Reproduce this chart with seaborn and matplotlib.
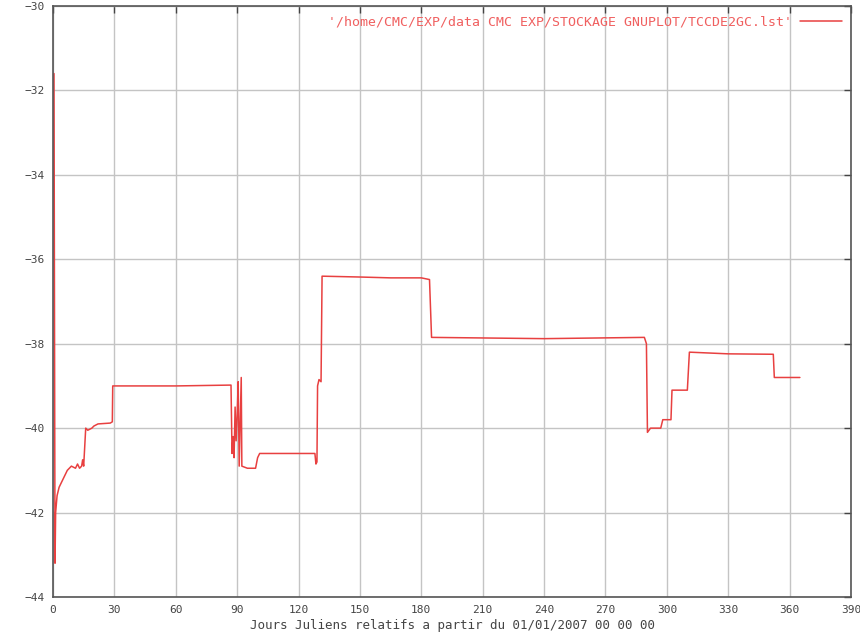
import numpy as np
import pandas as pd
import matplotlib
matplotlib.use("Agg")
import matplotlib.pyplot as plt
import seaborn as sns

# Donnees (jours, valeur)
jours = [0.5, 1.0, 1.3, 2, 3, 5, 7, 9, 11, 12, 13, 14, 14.5, 15, 16, 17, 19, 20, 22,
         28, 29, 29.2, 60, 87, 87.5, 88, 88.5, 89, 89.5, 90, 90.5, 91, 92, 92.3, 95,
         99, 100, 101, 128, 128.5, 129, 129.3, 130, 131, 131.5, 150, 165, 180, 184,
         185, 240, 289, 290, 290.5, 292, 297, 298, 302, 302.5, 310, 311, 330, 352,
         352.5, 365]
valeurs = [-31.6, -43.2, -42.0, -41.6, -41.4, -41.2, -41.0, -40.9, -40.95, -40.85,
           -40.95, -40.9, -40.75, -40.9, -40.0, -40.05, -40.0, -39.95, -39.9, -39.88,
           -39.85, -39.0, -39.0, -38.98, -40.6, -40.2, -40.7, -39.5, -40.3, -39.7,
           -38.9, -40.9, -38.8, -40.9, -40.95, -40.95, -40.7, -40.6, -40.6, -40.85,
           -40.8, -39.0, -38.85, -38.9, -36.4, -36.42, -36.44, -36.44, -36.48, -37.85,
           -37.88, -37.85, -38.0, -40.1, -40.0, -40.0, -39.8, -39.8, -39.1, -39.1,
           -38.2, -38.24, -38.25, -38.8, -38.8]

xticks = list(range(0, 391, 30))
yticks = list(range(-44, -29, 2))
legende = "'/home/CMC/EXP/data CMC EXP/STOCKAGE GNUPLOT/TCCDE2GC.lst'"
xlabel = "Jours Juliens relatifs a partir du 01/01/2007 00 00 00"

df = pd.DataFrame({'jour': jours, 'valeur': valeurs})

sns.set_style("white")
plt.rcParams['font.family'] = ['DejaVu Sans Mono', 'DejaVu Sans']

fig = plt.figure(figsize=(8.6, 6.4), dpi=100)
ax = fig.add_axes([0.0616, 0.0672, 0.928, 0.9234])

sns.lineplot(x='jour', y='valeur', data=df, sort=False, estimator=None,
             color='#e84040', linewidth=1.1, label=legende, ax=ax)

ax.set_xlim(0, 390)
ax.set_ylim(-44, -30)
ax.set_xticks(xticks)
ax.set_yticks(yticks)
ax.grid(True, color='#c4c4c4', linewidth=1.0)
ax.set_axisbelow(True)
ax.tick_params(direction='in', top=True, right=True, length=5, width=1,
               labelsize=8, colors='#444444', pad=6)
for s in ax.spines.values():
    s.set_color('#555555')
    s.set_linewidth(1.2)
ax.set_xlabel(xlabel, fontsize=9, color='#444444', labelpad=3)
ax.set_ylabel('')

leg = ax.legend(loc='upper right', frameon=False, markerfirst=False,
                fontsize=9.5, handlelength=3.2, handletextpad=0.6,
                borderaxespad=0.3, labelcolor='#f06060')

fig.savefig('out.png', dpi=100)
